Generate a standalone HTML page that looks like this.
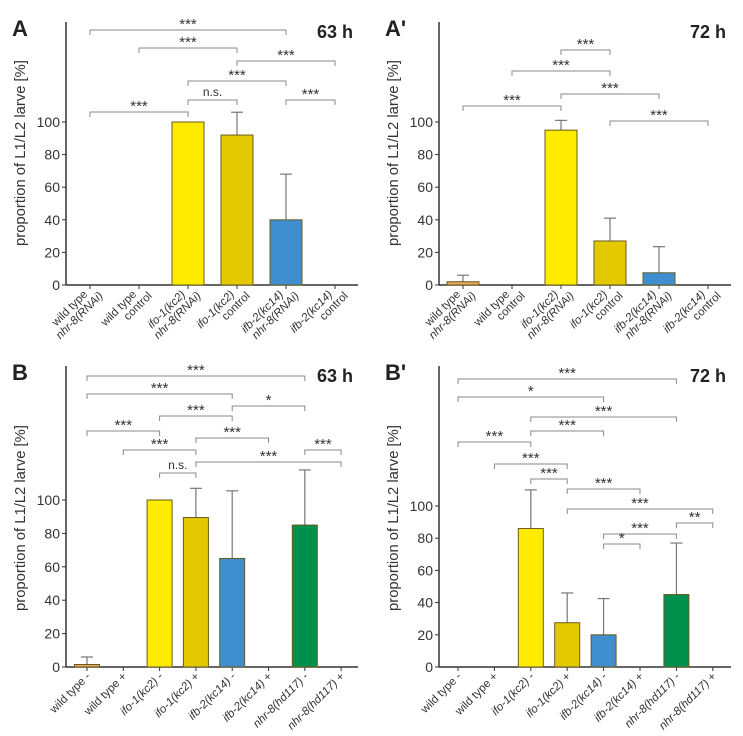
<!DOCTYPE html>
<html><head><meta charset="utf-8"><style>
body{margin:0;background:#fff}
svg{display:block;font-family:"Liberation Sans",sans-serif}
</style></head><body>
<svg id="c" width="743" height="736" viewBox="0 0 743 736"></svg>
<script>
// Panel A (63 h)
const catsA=[["wild type","<tspan font-style='italic'>nhr-8(RNAi)</tspan>"],["wild type","control"],["<tspan font-style='italic'>ifo-1(kc2)</tspan>","<tspan font-style='italic'>nhr-8(RNAi)</tspan>"],["<tspan font-style='italic'>ifo-1(kc2)</tspan>","control"],["<tspan font-style='italic'>ifb-2(kc14)</tspan>","<tspan font-style='italic'>nhr-8(RNAi)</tspan>"],["<tspan font-style='italic'>ifb-2(kc14)</tspan>","control"]];
const valsA=[0,0,100,92,40,0];
const errA=[0,0,0,106,68,0];
const sigA=[[0,4,"***"],[1,3,"***"],[3,5,"***"],[2,4,"***"],[2,3,"n.s."],[4,5,"***"],[0,2,"***"]];
// Panel A' (72 h)
const valsA2=[2,0,95,27,7.5,0];
const errA2=[6,0,101,41,23.5,0];
const sigA2=[[2,3,"***"],[1,3,"***"],[2,4,"***"],[0,2,"***"],[3,5,"***"]];
// Panel B (63 h)
const catsB=["wild type -","wild type +","<tspan font-style='italic'>ifo-1(kc2)</tspan> -","<tspan font-style='italic'>ifo-1(kc2)</tspan> +","<tspan font-style='italic'>ifb-2(kc14)</tspan> -","<tspan font-style='italic'>ifb-2(kc14)</tspan> +","<tspan font-style='italic'>nhr-8(hd117)</tspan> -","<tspan font-style='italic'>nhr-8(hd117)</tspan> +"];
const valsB=[1.5,0,100,89.5,65,0,85,0];
const errB=[6,0,0,107,105.5,0,118,0];
const sigB=[[0,6,"***"],[0,4,"***"],[4,6,"*"],[2,4,"***"],[0,2,"***"],[3,5,"***"],[1,3,"***"],[6,7,"***"],[3,7,"***"],[2,3,"n.s."]];
// Panel B' (72 h)
const valsB2=[0,0,86,27.5,20,0,45,0];
const errB2=[0,0,110,46,42.5,0,77,0];
const sigB2=[[0,6,"***"],[0,4,"*"],[2,6,"***"],[2,4,"***"],[0,2,"***"],[1,3,"***"],[2,3,"***"],[3,5,"***"],[3,7,"***"],[6,7,"**"],[4,6,"***"],[4,5,"*"]];
const yTicks=[0,20,40,60,80,100];
const colorsA=["#E9A65B","#E9A65B","#FFEB00","#E3CA00","#3E8ED0","#3E8ED0"];
const colorsB=["#E9A65B","#E9A65B","#FFEB00","#E3CA00","#3E8ED0","#3E8ED0","#00904E","#00904E"];

const svg=document.getElementById('c');
const NS="http://www.w3.org/2000/svg";
function mk(tag,attrs,parent){const e=document.createElementNS(NS,tag);for(const k in attrs)e.setAttribute(k,attrs[k]);(parent||svg).appendChild(e);return e;}

function panel(p){
  const g=mk('g',{});
  
  
  const y=v=>p.y0-v*(p.y0-p.y100)/100;
  const x=i=>p.x0+i*p.dx;
  const ya=mk('line',{x1:p.ax,y1:p.top,x2:p.ax,y2:p.y0,stroke:"#333","stroke-width":1.5},g);
  
  
  const xa=mk('line',{x1:p.ax,y1:p.y0,x2:p.right,y2:p.y0,stroke:"#333","stroke-width":1.5},g);
  
  
  yTicks.forEach(t=>{
    mk('line',{x1:p.ax-4,y1:y(t),x2:p.ax,y2:y(t),stroke:"#333"},g);
    const tx=mk('text',{x:p.ax-6,y:y(t)+5,"text-anchor":"end","font-size":14,fill:"#333"},g);
    tx.textContent=t;
    
    
  });
  const cy=p.titleCy;
  const yt=mk('text',{x:0,y:0,transform:`translate(${p.ax-41},${cy}) rotate(-90)`,"text-anchor":"middle","font-size":14.8,fill:"#333"},g);
  yt.textContent="proportion of L1/L2 larve [%]";
  
  
  p.vals.forEach((v,i)=>{
    mk('line',{x1:x(i),y1:p.y0,x2:x(i),y2:p.y0+4,stroke:"#333"},g);
    if(p.errs[i]>v){
      const el=mk('line',{x1:x(i),y1:y(v),x2:x(i),y2:y(p.errs[i]),stroke:"#777","stroke-width":1.2},g);
      
      
      mk('line',{x1:x(i)-6,y1:y(p.errs[i]),x2:x(i)+6,y2:y(p.errs[i]),stroke:"#777","stroke-width":1.2},g);
    }
    if(v>0){
      const r=mk('rect',{x:x(i)-p.bw/2,y:y(v),width:p.bw,height:p.y0-y(v),fill:p.colors[i],stroke:"#6a5a20","stroke-width":1},g);
      
      
    }
    const lab=p.cats[i];
    const t=mk('text',{transform:`translate(${x(i)+4},${p.y0+10}) rotate(-45)`,"text-anchor":"end","font-size":11.5,fill:"#333"},g);
    
    
    if(Array.isArray(lab)){
      t.innerHTML=`<tspan x="0" dy="0">${lab[0]}</tspan><tspan x="10" dy="12">${lab[1]}</tspan>`;
      t.setAttribute('transform',`translate(${x(i)-2},${p.y0+10}) rotate(-45)`);
    } else t.innerHTML=lab;
  });
  p.sig.forEach((s,k)=>{
    const by=p.sigY[k],x1=x(s[0]),x2=x(s[1]);
    const b=mk('path',{d:`M${x1},${by+5}V${by}H${x2}V${by+5}`,fill:"none",stroke:"#888","stroke-width":1},g);
    
    
    const st=mk('text',{x:(x1+x2)/2,y:s[2]=="n.s."?by-4:by-1,"text-anchor":"middle","font-size":s[2]=="n.s."?12:15,fill:"#333"},g);
    st.textContent=s[2];
    
    
  });
  const pl=mk('text',{x:p.ax-54,y:p.top+14,"font-size":22,"font-weight":"bold",fill:"#222"},g);
  pl.textContent=p.letter;
  
  
  const tl=mk('text',{x:p.right-5,y:p.top+16,"text-anchor":"end","font-size":18,"font-weight":"bold",fill:"#222"},g);
  tl.textContent=p.time;
  
  
}
panel({name:"panel-a",letter:"A",time:"63 h",ax:66,top:22,right:358,y0:285,y100:122,x0:90,dx:49,bw:32,titleCy:153,vals:valsA,errs:errA,colors:colorsA,cats:catsA,sig:sigA,sigY:[30,48,61,81,100,100,112]});
panel({name:"panel-a-prime",letter:"A'",time:"72 h",ax:439,top:22,right:731,y0:285,y100:122,x0:463,dx:49,bw:32,titleCy:153,vals:valsA2,errs:errA2,colors:colorsA,cats:catsA,sig:sigA2,sigY:[50,71,94,106,121]});
panel({name:"panel-b",letter:"B",time:"63 h",ax:66,top:366,right:358,y0:667,y100:500,x0:87,dx:36.3,bw:25,titleCy:518,vals:valsB,errs:errB,colors:colorsB,cats:catsB,sig:sigB,sigY:[376,394,406,416,431,438,450,450,462,473]});
panel({name:"panel-b-prime",letter:"B'",time:"72 h",ax:439,top:366,right:731,y0:667,y100:506,x0:458,dx:36.4,bw:25,titleCy:518,vals:valsB2,errs:errB2,colors:colorsB,cats:catsB,sig:sigB2,sigY:[379,397,417,431,442,464,479,489,509,523,534,544]});
</script>
</body></html>
